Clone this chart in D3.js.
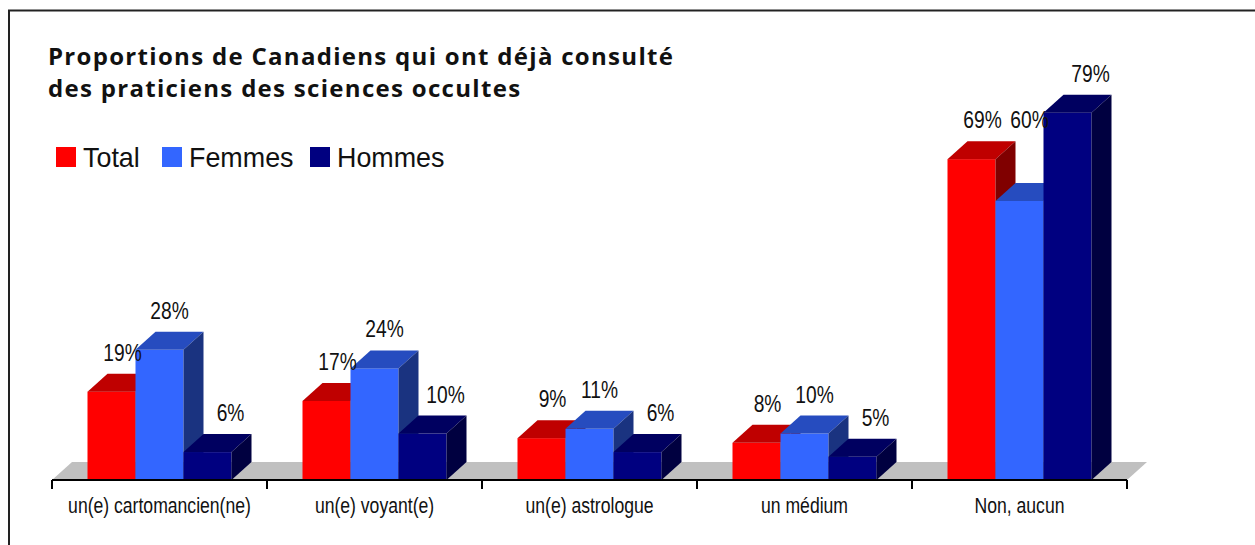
<!DOCTYPE html>
<html>
<head>
<meta charset="utf-8">
<script src="https://cdn.jsdelivr.net/npm/d3@7"></script>
<style>
  body { margin: 0; background: #fff; }
  svg text { font-family: "Liberation Sans", Arial, sans-serif; fill: #111; }
  svg text.title { font-family: "Open Sans", "Liberation Sans", sans-serif; letter-spacing: 1.3px; }
</style>
</head>
<body>
<div id="chart"></div>
<script>
// data
var categories = ["un(e) cartomancien(ne)", "un(e) voyant(e)", "un(e) astrologue", "un médium", "Non, aucun"];
var seriesNames = ["Total", "Femmes", "Hommes"];
var totalValues = [19, 17, 9, 8, 69];
var femmesValues = [28, 24, 11, 10, 60];
var hommesValues = [6, 10, 6, 5, 79];
var titleLines = ["Proportions de Canadiens qui ont déjà consulté", "des praticiens des sciences occultes"];

var W = 1255, H = 545;
var depthX = 20, depthY = -18;
var squeeze = 0.8; // the source chart text is horizontally condensed

var seriesValues = [totalValues, femmesValues, hommesValues];
var faceColors = [
  { front: "#FF0000", top: "#BF0000", side: "#800000" },
  { front: "#3366FF", top: "#264CBF", side: "#1A3380" },
  { front: "#000080", top: "#000060", side: "#000040" }
];
var labelShift = [11, 10, 23];

var svg = d3.select("#chart").append("svg")
  .attr("width", W)
  .attr("height", H);

// frame
svg.append("rect")
  .attr("x", 9).attr("y", 10.5)
  .attr("width", W + 20).attr("height", H + 20)
  .attr("fill", "#fff")
  .attr("stroke", "#222")
  .attr("stroke-width", 2);

var x0 = d3.scaleBand().domain(categories).range([52, 1127]);
var x1 = d3.scaleBand().domain(seriesNames).range([35.5, 179.5]);
var y = d3.scaleLinear().domain([0, 80]).range([480, 108]);

function squeezedText(parent, x, yy, txt, size, weight, anchor, sx) {
  return parent.append("text")
    .attr("transform", "translate(" + x + "," + yy + ") scale(" + (sx || squeeze) + ",1)")
    .attr("text-anchor", anchor || "middle")
    .style("font-size", size + "px")
    .style("font-weight", weight || "normal")
    .text(txt);
}

// floor
var fx0 = x0.range()[0], fx1 = x0.range()[1], fy = y(0);
svg.append("path")
  .attr("d", "M" + fx0 + "," + fy + "L" + fx1 + "," + fy +
    "L" + (fx1 + depthX) + "," + (fy + depthY) + "L" + (fx0 + depthX) + "," + (fy + depthY) + "Z")
  .attr("fill", "#C0C0C0");

// bars, drawn left to right so later ones cover earlier sides
var bars = [];
categories.forEach(function(cat, ci) {
  seriesNames.forEach(function(s, si) {
    bars.push({ cat: cat, ci: ci, si: si, value: seriesValues[si][ci] });
  });
});

var barG = svg.append("g");
bars.forEach(function(d) {
  var xl = x0(d.cat) + x1(seriesNames[d.si]);
  var xr = xl + x1.bandwidth();
  var yt = y(d.value), yb = y(0);
  var c = faceColors[d.si];
  var g = barG.append("g");
  g.append("rect")
    .attr("x", xl).attr("y", yt)
    .attr("width", xr - xl).attr("height", yb - yt)
    .attr("fill", c.front);
  g.append("path")
    .attr("d", "M" + xl + "," + yt + "L" + xr + "," + yt + "L" + (xr + depthX) + "," + (yt + depthY) +
      "L" + (xl + depthX) + "," + (yt + depthY) + "Z")
    .attr("fill", c.top);
  g.append("path")
    .attr("d", "M" + xr + "," + yt + "L" + (xr + depthX) + "," + (yt + depthY) +
      "L" + (xr + depthX) + "," + (yb + depthY) + "L" + xr + "," + yb + "Z")
    .attr("fill", c.side);
});

// x axis
var xAxis = d3.axisBottom(x0).tickSize(0).tickPadding(0).tickFormat("");
var axisG = svg.append("g")
  .attr("transform", "translate(0," + y(0) + ")")
  .call(xAxis);
axisG.select(".domain").remove();
axisG.append("line")
  .attr("x1", fx0).attr("x2", fx1)
  .attr("stroke", "#000").attr("stroke-width", 2);
var edges = categories.map(function(c) { return x0(c); }).concat([fx1]);
axisG.selectAll(".edge")
  .data(edges)
  .enter().append("line")
  .attr("class", "edge")
  .attr("x1", function(d) { return d; })
  .attr("x2", function(d) { return d; })
  .attr("y1", 0).attr("y2", 9)
  .attr("stroke", "#000").attr("stroke-width", 2);

categories.forEach(function(c) {
  squeezedText(svg, x0(c) + x0.bandwidth() / 2, 513, c, 22);
});

// value labels
var labelG = svg.append("g");
bars.forEach(function(d, i) {
  var xl = x0(d.cat) + x1(seriesNames[d.si]);
  var cx = xl + x1.bandwidth() / 2 + labelShift[d.si];
  var topY = y(d.value) + depthY;
  var t = squeezedText(labelG, cx, 0, d.value + "%", 24);
  var w = t.node().getComputedTextLength() * squeeze;
  // lift the label over a taller left neighbour's side face
  if (d.si > 0) {
    var prev = bars[i - 1];
    var prevRight = x0(prev.cat) + x1(seriesNames[prev.si]) + x1.bandwidth();
    var prevTop = y(prev.value) + depthY;
    if (prevTop < topY && cx - w / 2 < prevRight + depthX) topY = prevTop;
  }
  t.attr("transform", "translate(" + cx + "," + (topY - 13) + ") scale(" + squeeze + ",1)");
});

// title
titleLines.forEach(function(line, i) {
  squeezedText(svg, 48, 65 + i * 32, line, 24, "bold", "start", 1).attr("class", "title");
});

// legend
var legendX = [56, 162, 310];
var legend = svg.append("g");
seriesNames.forEach(function(s, i) {
  legend.append("rect")
    .attr("x", legendX[i]).attr("y", 147)
    .attr("width", 20).attr("height", 20)
    .attr("fill", faceColors[i].front);
  squeezedText(legend, legendX[i] + 27, 167, s, 28, "normal", "start", 0.96);
});
</script>
</body>
</html>
